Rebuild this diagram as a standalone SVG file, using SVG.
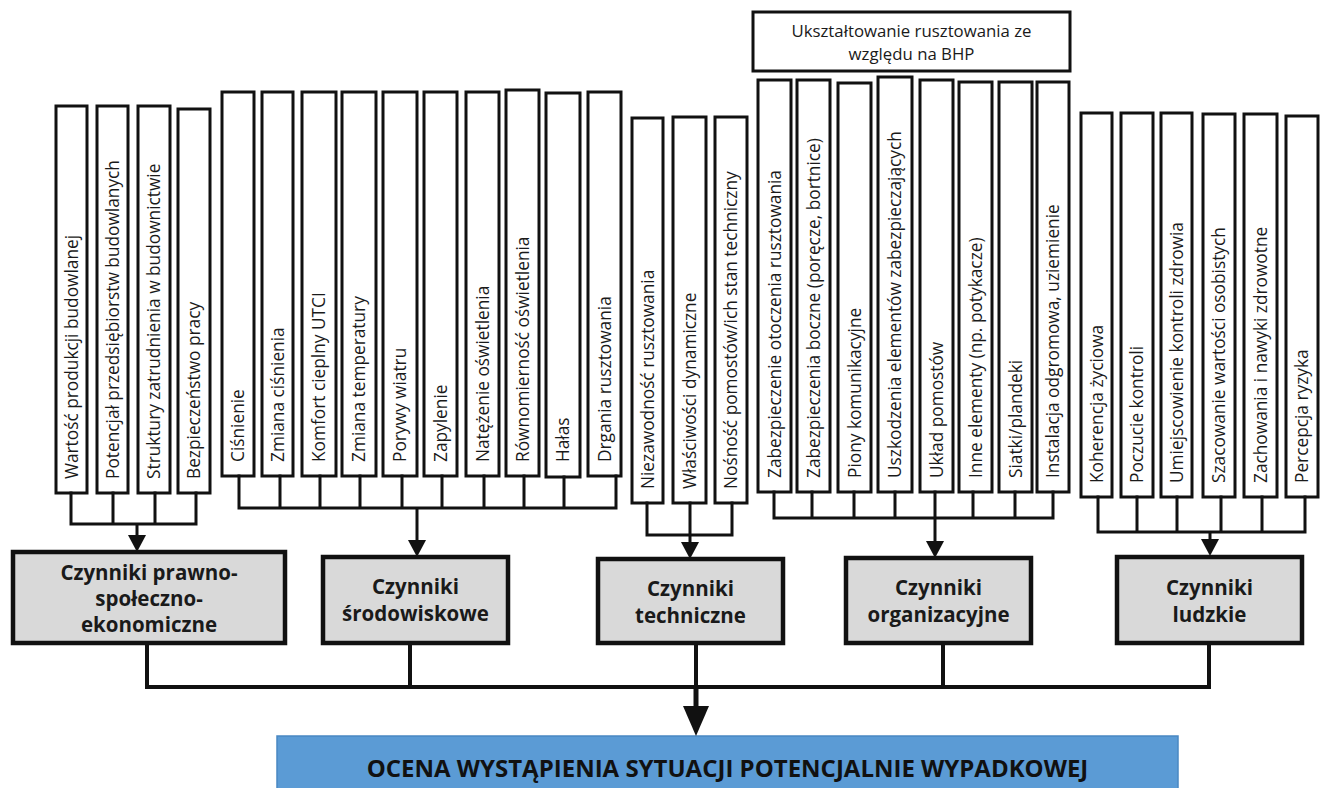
<svg xmlns="http://www.w3.org/2000/svg" width="1325" height="788" viewBox="0 0 1325 788">
<defs>
<style>
.v{fill:#fff;stroke:#111;stroke-width:3}
.vt{font-family:"Open Sans","Noto Sans",sans-serif;font-size:17.3px;fill:#1a1a1a}
.bt{font-family:"Open Sans","Noto Sans",sans-serif;font-size:16.8px;fill:#1a1a1a;text-anchor:middle}
.m{fill:#d9d9d9;stroke:#111;stroke-width:4.5}
.mt{font-family:"Open Sans","Noto Sans",sans-serif;font-size:20.5px;font-weight:700;fill:#1a1a1a;text-anchor:middle}
.c{fill:none;stroke:#111;stroke-width:3;stroke-linecap:square}
.a{fill:none;stroke:#111;stroke-width:3}
.bus{fill:none;stroke:#111;stroke-width:4;stroke-linecap:square}
</style>
<marker id="ah" markerUnits="userSpaceOnUse" markerWidth="18" markerHeight="18" viewBox="0 0 17 18" refX="0" refY="9" orient="auto"><path d="M0,0 L17,9 L0,18 Z" fill="#111"/></marker>
<marker id="ahb" markerUnits="userSpaceOnUse" markerWidth="30" markerHeight="26" viewBox="0 0 30 26" refX="0" refY="13" orient="auto"><path d="M0,0 L30,13 L0,26 Z" fill="#111"/></marker>
</defs>
<rect width="1325" height="788" fill="#fff"/>

<!-- Group 1 -->
<g id="n-wartosc"><rect class="v" x="56" y="106" width="31" height="387"/><text class="vt" transform="translate(77.5,479) rotate(-90)">Wartość produkcji budowlanej</text></g>
<g id="n-potencjal"><rect class="v" x="97" y="106" width="31" height="387"/><text class="vt" transform="translate(118.5,479) rotate(-90)">Potencjał przedsiębiorstw budowlanych</text></g>
<g id="n-struktury"><rect class="v" x="138" y="106" width="32" height="387"/><text class="vt" transform="translate(160,479) rotate(-90)">Struktury zatrudnienia w budownictwie</text></g>
<g id="n-bezp"><rect class="v" x="178" y="109" width="32" height="384"/><text class="vt" transform="translate(200,479) rotate(-90)">Bezpieczeństwo pracy</text></g>

<!-- Group 2 -->
<g id="n-cisnienie"><rect class="v" x="222" y="92" width="32" height="384"/><text class="vt" transform="translate(244,462) rotate(-90)">Ciśnienie</text></g>
<g id="n-zm-cisn"><rect class="v" x="262" y="92" width="31" height="384"/><text class="vt" transform="translate(283.5,462) rotate(-90)">Zmiana ciśnienia</text></g>
<g id="n-komfort"><rect class="v" x="302" y="92" width="34" height="384"/><text class="vt" transform="translate(325,462) rotate(-90)">Komfort cieplny UTCI</text></g>
<g id="n-zm-temp"><rect class="v" x="342" y="92" width="34" height="384"/><text class="vt" transform="translate(365,462) rotate(-90)">Zmiana temperatury</text></g>
<g id="n-porywy"><rect class="v" x="383" y="92" width="34" height="384"/><text class="vt" transform="translate(406,462) rotate(-90)">Porywy wiatru</text></g>
<g id="n-zapylenie"><rect class="v" x="424" y="92" width="33" height="384"/><text class="vt" transform="translate(446.5,462) rotate(-90)">Zapylenie</text></g>
<g id="n-natezenie"><rect class="v" x="466" y="92" width="33" height="384"/><text class="vt" transform="translate(488.5,462) rotate(-90)">Natężenie oświetlenia</text></g>
<g id="n-rownom"><rect class="v" x="506" y="90" width="33" height="386"/><text class="vt" transform="translate(528.5,462) rotate(-90)">Równomierność oświetlenia</text></g>
<g id="n-halas"><rect class="v" x="546" y="93" width="34" height="384"/><text class="vt" transform="translate(569,462) rotate(-90)">Hałas</text></g>
<g id="n-drgania"><rect class="v" x="588" y="92" width="33" height="384"/><text class="vt" transform="translate(610.5,462) rotate(-90)">Drgania rusztowania</text></g>

<!-- Group 3 -->
<g id="n-niezaw"><rect class="v" x="632" y="118" width="31" height="385"/><text class="vt" transform="translate(653.5,489) rotate(-90)">Niezawodność rusztowania</text></g>
<g id="n-wlasc"><rect class="v" x="673" y="117" width="33" height="386"/><text class="vt" transform="translate(695.5,489) rotate(-90)">Właściwości dynamiczne</text></g>
<g id="n-nosnosc"><rect class="v" x="715" y="117" width="32" height="386"/><text class="vt" transform="translate(737,489) rotate(-90)">Nośność pomostów/ich stan techniczny</text></g>

<!-- BHP header -->
<g id="n-bhp"><rect class="v" x="753" y="12" width="317" height="59"/>
<text class="bt" x="911.5" y="37">Ukształtowanie rusztowania ze</text>
<text class="bt" x="911.5" y="60">względu na BHP</text></g>

<!-- Group 4 -->
<g id="n-zab-otocz"><rect class="v" x="758" y="80" width="33" height="412"/><text class="vt" transform="translate(780.5,478) rotate(-90)">Zabezpieczenie otoczenia rusztowania</text></g>
<g id="n-zab-bocz"><rect class="v" x="797" y="80" width="33" height="412"/><text class="vt" transform="translate(819.5,478) rotate(-90)">Zabezpieczenia boczne (poręcze, bortnice)</text></g>
<g id="n-piony"><rect class="v" x="838" y="83" width="33" height="409"/><text class="vt" transform="translate(860.5,478) rotate(-90)">Piony komunikacyjne</text></g>
<g id="n-uszk"><rect class="v" x="878" y="77" width="34" height="415"/><text class="vt" transform="translate(901,478) rotate(-90)">Uszkodzenia elementów zabezpieczających</text></g>
<g id="n-uklad"><rect class="v" x="920" y="80" width="33" height="412"/><text class="vt" transform="translate(942.5,478) rotate(-90)">Układ pomostów</text></g>
<g id="n-inne"><rect class="v" x="959" y="82" width="33" height="410"/><text class="vt" transform="translate(981.5,478) rotate(-90)">Inne elementy (np. potykacze)</text></g>
<g id="n-siatki"><rect class="v" x="999" y="82" width="33" height="410"/><text class="vt" transform="translate(1021.5,478) rotate(-90)">Siatki/plandeki</text></g>
<g id="n-instal"><rect class="v" x="1037" y="82" width="32" height="410"/><text class="vt" transform="translate(1059,478) rotate(-90)">Instalacja odgromowa, uziemienie</text></g>

<!-- Group 5 -->
<g id="n-koher"><rect class="v" x="1081" y="113" width="31" height="384"/><text class="vt" transform="translate(1102.5,483) rotate(-90)">Koherencja życiowa</text></g>
<g id="n-poczucie"><rect class="v" x="1121" y="113" width="32" height="384"/><text class="vt" transform="translate(1143,483) rotate(-90)">Poczucie kontroli</text></g>
<g id="n-umiejsc"><rect class="v" x="1161" y="113" width="31" height="384"/><text class="vt" transform="translate(1182.5,483) rotate(-90)">Umiejscowienie kontroli zdrowia</text></g>
<g id="n-szacow"><rect class="v" x="1203" y="114" width="32" height="383"/><text class="vt" transform="translate(1225,483) rotate(-90)">Szacowanie wartości osobistych</text></g>
<g id="n-zachow"><rect class="v" x="1244" y="114" width="33" height="383"/><text class="vt" transform="translate(1266.5,483) rotate(-90)">Zachowania i nawyki zdrowotne</text></g>
<g id="n-percep"><rect class="v" x="1286" y="116" width="32" height="381"/><text class="vt" transform="translate(1308,483) rotate(-90)">Percepcja ryzyka</text></g>

<!-- Category boxes -->
<g id="n-prawno"><rect class="m" x="13" y="552" width="272" height="91"/>
<text class="mt" x="149" y="580">Czynniki prawno-</text>
<text class="mt" x="149" y="606">społeczno-</text>
<text class="mt" x="149" y="632">ekonomiczne</text></g>
<g id="n-srodow"><rect class="m" x="323" y="557" width="185" height="86"/>
<text class="mt" x="415.5" y="594">Czynniki</text>
<text class="mt" x="415.5" y="621">środowiskowe</text></g>
<g id="n-techn"><rect class="m" x="598" y="559" width="185" height="84"/>
<text class="mt" x="690.5" y="596">Czynniki</text>
<text class="mt" x="690.5" y="623">techniczne</text></g>
<g id="n-organ"><rect class="m" x="846" y="558" width="185" height="85"/>
<text class="mt" x="938.5" y="595">Czynniki</text>
<text class="mt" x="938.5" y="622">organizacyjne</text></g>
<g id="n-ludzkie"><rect class="m" x="1117" y="557" width="185" height="86"/>
<text class="mt" x="1209.5" y="595">Czynniki</text>
<text class="mt" x="1209.5" y="622">ludzkie</text></g>

<!-- Result -->
<g id="n-ocena"><rect x="277" y="736" width="901" height="60" fill="#5b9bd5" stroke="#4a88c2" stroke-width="1.5"/>
<text x="727.5" y="777" text-anchor="middle" font-family="'Open Sans','Noto Sans',sans-serif" font-size="24" font-weight="700" fill="#111">OCENA WYSTĄPIENIA SYTUACJI POTENCJALNIE WYPADKOWEJ</text></g>

<!-- Connectors -->
<g id="connectors">
<path class="c" d="M71,493V524M113,493V524M155,493V524M196,493V524M71,524H196"/>
<path class="a" d="M137,524V535" marker-end="url(#ah)"/>
<path class="c" d="M239,476V508M280,476V508M320,476V508M360,476V508M402,476V508M442,476V508M484,476V508M524,476V508M564,477V508M616,476V508M239,508H616"/>
<path class="a" d="M417,508V540" marker-end="url(#ah)"/>
<path class="c" d="M647,503V535M690,503V535M732,503V535M647,535H732"/>
<path class="a" d="M690,535V542" marker-end="url(#ah)"/>
<path class="c" d="M774,492V518M812,492V518M854,492V518M895,492V518M935,492V518M973,492V518M1015,492V518M1053,492V518M774,518H1053"/>
<path class="a" d="M935,518V541" marker-end="url(#ah)"/>
<path class="c" d="M1098,497V532M1137,497V532M1177,497V532M1221,497V532M1262,497V532M1305,497V532M1098,532H1305"/>
<path class="a" d="M1210,532V539" marker-end="url(#ah)"/>
<path class="bus" d="M147,643V687H1209V643M410,643V687M943,643V687"/>
<path fill="none" stroke="#111" stroke-width="4" d="M696,643V687"/>
<path fill="none" stroke="#111" stroke-width="5" d="M696,687V706" marker-end="url(#ahb)"/>
</g>
</svg>
